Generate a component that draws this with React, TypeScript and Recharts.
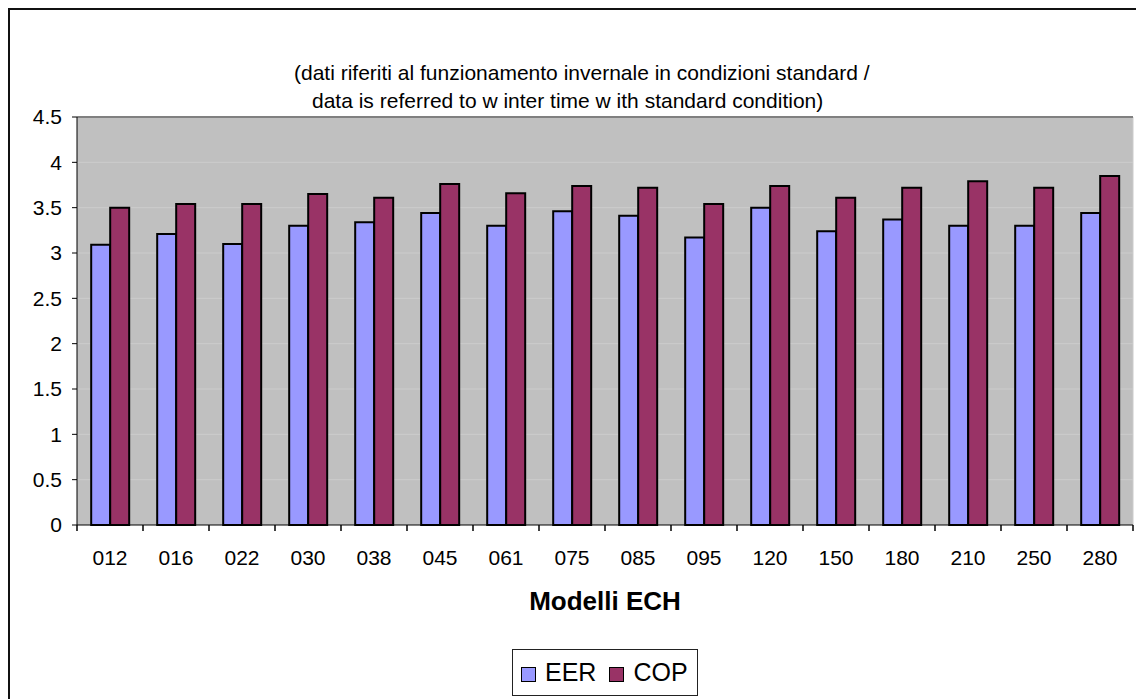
import React from "react";
import {
  BarChart,
  Bar,
  XAxis,
  YAxis,
  CartesianGrid,
  Legend,
  ReferenceLine,
} from "recharts";

const MODELS = ["012", "016", "022", "030", "038", "045", "061", "075", "085", "095", "120", "150", "180", "210", "250", "280"];
const EER = [3.09, 3.21, 3.1, 3.3, 3.34, 3.44, 3.3, 3.46, 3.41, 3.17, 3.5, 3.24, 3.37, 3.3, 3.3, 3.44];
const COP = [3.5, 3.54, 3.54, 3.65, 3.61, 3.76, 3.66, 3.74, 3.72, 3.54, 3.74, 3.61, 3.72, 3.79, 3.72, 3.85];
const SERIES_ORDER = ["EER", "COP"];
const Y_TICKS = [0, 0.5, 1, 1.5, 2, 2.5, 3, 3.5, 4, 4.5];
const GRID_VALUES = [0.5, 1, 1.5, 2, 2.5, 3, 3.5, 4];

const TITLE_1 = "(dati riferiti al funzionamento invernale in condizioni standard /";
const TITLE_2 = "data is referred to w inter time w ith standard condition)";

const FONT = "'Liberation Sans', Arial, sans-serif";
const W = 1136;
const H = 691;
const MARGIN = { top: 109, right: 11, bottom: 89, left: 9 };
const Y_WIDTH = 60;
const TICK_SIZE = 6;
const TICK_MARGIN = 19;

const data = MODELS.map((m, i) => ({ model: m, eer: EER[i], cop: COP[i] }));

// category ticks: label in the middle, tick mark on the band boundaries
function ModelTick(props: any) {
  const { x, y, payload, index, visibleTicksCount } = props;
  const half = payload.offset || 33;
  const axisY = y - TICK_SIZE - TICK_MARGIN;
  const isLast = index === (visibleTicksCount || MODELS.length) - 1;
  return (
    <g>
      <line x1={x - half} x2={x - half} y1={axisY} y2={axisY + TICK_SIZE} stroke="#000" strokeWidth={1.5} />
      {isLast && <line x1={x + half} x2={x + half} y1={axisY} y2={axisY + TICK_SIZE} stroke="#000" strokeWidth={1.5} />}
      <text x={x} y={y} dy="0.71em" textAnchor="middle" fontSize={21} fill="#000" fontFamily={FONT}>
        {payload.value}
      </text>
    </g>
  );
}

function LegendBox(props: any) {
  const items = [...(props.payload || [])].sort(
    (a: any, b: any) => SERIES_ORDER.indexOf(a.value) - SERIES_ORDER.indexOf(b.value)
  );
  return (
    <div
      style={{
        boxSizing: "border-box",
        width: "100%",
        height: "100%",
        border: "1.5px solid #222",
        background: "#fff",
        display: "flex",
        alignItems: "center",
        padding: "0 0 0 8px",
        fontSize: 25,
        fontFamily: FONT,
        color: "#000",
      }}
    >
      {items.map((it: any, i: number) => (
        <div key={it.value} style={{ display: "flex", alignItems: "center", marginRight: i === 0 ? 13 : 0 }}>
          <span
            style={{
              display: "inline-block",
              width: 13,
              height: 13,
              background: it.color,
              border: "1px solid #000",
              marginRight: 9,
              marginTop: 3,
            }}
          />
          <span style={{ lineHeight: 1 }}>{it.value}</span>
        </div>
      ))}
    </div>
  );
}

export default function App() {
  return (
    <div style={{ position: "relative", width: W, height: H, fontFamily: FONT, background: "#fff" }}>
      <style>{`html,body{overflow:hidden}`}</style>
      <div
        style={{
          position: "absolute",
          left: 0,
          top: 0,
          width: "100%",
          height: "100%",
          borderLeft: "2px solid #111",
          borderTop: "2px solid #111",
          pointerEvents: "none",
          boxSizing: "border-box",
        }}
      />
      <div style={{ position: "absolute", left: 286, top: 54, fontSize: 21, lineHeight: 1, whiteSpace: "pre" }}>
        {TITLE_1}
      </div>
      <div style={{ position: "absolute", left: 304, top: 82, fontSize: 21, lineHeight: 1, whiteSpace: "pre" }}>
        {TITLE_2}
      </div>
      <BarChart width={W} height={H} data={data} margin={MARGIN} barCategoryGap="21.5%" barGap={0}>
        <CartesianGrid
          fill="#C0C0C0"
          fillOpacity={1}
          horizontalValues={GRID_VALUES}
          horizontal={{ stroke: "#333", strokeWidth: 1.2 }}
          vertical={{ stroke: "#808080", strokeWidth: 2 }}
          verticalCoordinatesGenerator={({ offset }: any) => [offset.left + offset.width]}
        />
        <ReferenceLine y={4.5} stroke="#808080" strokeWidth={2} />
        <XAxis
          dataKey="model"
          interval={0}
          height={85}
          tickSize={TICK_SIZE}
          tickMargin={TICK_MARGIN}
          tickLine={{ stroke: "transparent" }}
          axisLine={{ stroke: "#000" }}
          tick={<ModelTick />}
          label={{
            value: "Modelli ECH",
            position: "insideBottom",
            offset: 0,
            fontSize: 26,
            fontWeight: "bold",
            fill: "#000",
            fontFamily: FONT,
          }}
        />
        <YAxis
          domain={[0, 4.5]}
          ticks={Y_TICKS}
          width={Y_WIDTH}
          tickSize={5}
          tickMargin={10}
          tick={{ fontSize: 21, fill: "#000", fontFamily: FONT }}
          tickLine={{ stroke: "#000" }}
          axisLine={{ stroke: "#000" }}
          interval={0}
        />
        <Legend
          layout="horizontal"
          verticalAlign="middle"
          align="center"
          wrapperStyle={{ position: "absolute", left: 504, top: 641, width: 186, height: 47 }}
          content={<LegendBox />}
        />
        <Bar dataKey="eer" name="EER" fill="#9999FF" stroke="#000" strokeWidth={2} isAnimationActive={false} />
        <Bar dataKey="cop" name="COP" fill="#993366" stroke="#000" strokeWidth={2} isAnimationActive={false} />
      </BarChart>
    </div>
  );
}
